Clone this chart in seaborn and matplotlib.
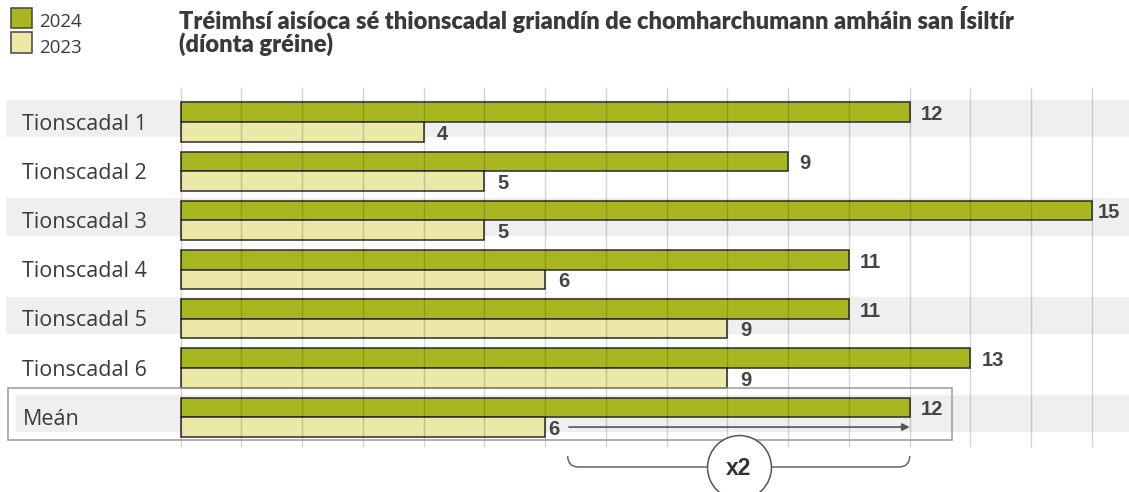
import matplotlib
matplotlib.use("Agg")
import matplotlib.pyplot as plt
from matplotlib.patches import Rectangle, PathPatch
from matplotlib.path import Path
import seaborn as sns
import pandas as pd

# ---------------- data ----------------
categories = ["Tionscadal 1", "Tionscadal 2", "Tionscadal 3", "Tionscadal 4",
              "Tionscadal 5", "Tionscadal 6", "Meán"]
years = ["2024", "2023"]
values_2024 = [12, 10, 15, 11, 11, 13, 12]
values_2023 = [4, 5, 5, 6, 9, 9, 6]
labels_2024 = ["12", "9", "15", "11", "11", "13", "12"]
labels_2023 = ["4", "5", "5", "6", "9", "9", "6"]
title_lines = ["Tréimhsí aisíoca sé thionscadal griandín de chomharchumann amháin san Ísiltír",
               "(díonta gréine)"]
factor_label = "x2"
colors = {"2024": "#a8b720", "2023": "#ebe8a8"}

df = pd.DataFrame({
    "project": categories * 2,
    "year": ["2024"] * len(categories) + ["2023"] * len(categories),
    "value": values_2024 + values_2023,
})

# ---------------- layout helpers (pixel geometry) ----------------
W, H = 1129, 492
X0, XU = 180.7, 60.75      # pixel of x=0, pixels per unit
Y0, YU = 122.0, 49.2       # pixel of row 0 centre, pixels per row


def px2x(px):
    return (px - X0) / XU


def px2y(py):
    return (py - Y0) / YU


TXT = "#3a3a3a"
VAL = "#444444"

fig = plt.figure(figsize=(W / 100, H / 100), dpi=100)
ax = fig.add_axes([0, 0, 1, 1])

sns.barplot(data=df, y="project", x="value", hue="year", order=categories,
            hue_order=years, palette=colors, orient="h", width=0.8,
            edgecolor="#2b2b2b", linewidth=1.1, legend=False, ax=ax,
            saturation=1, zorder=2)

ax.set_xlim(px2x(0), px2x(W))
ax.set_ylim(px2y(H), px2y(0))
ax.set_axis_off()

# alternating bands
for i in range(0, len(categories), 2):
    left = px2x(6) if i < len(categories) - 1 else px2x(16)
    c = i - 3.5 / YU
    ax.add_patch(Rectangle((left, c - 18.7 / YU), px2x(W) - left, 37.4 / YU,
                           facecolor="#efefef", edgecolor="none", zorder=0,
                           clip_on=False))

# vertical grid lines (drawn over bars, translucent)
ax.vlines(range(0, 16), px2y(87), px2y(447), color="black", alpha=0.17,
          lw=1, zorder=3)

# category labels
for i, cat in enumerate(categories):
    ax.text(px2x(22.5), i + 7.6 / YU, cat, ha="left", va="baseline",
            fontsize=15.5, family="Open Sans", color=TXT, zorder=5)

# value labels
for i in range(len(categories)):
    off24 = 6 if values_2024[i] >= 15 else 11
    ax.text(values_2024[i] + off24 / XU, i - 0.2 + 7.8 / YU, labels_2024[i],
            ha="left", va="baseline", fontsize=14.5, fontweight="bold",
            family="Liberation Sans", color=VAL, zorder=5)
    off23 = 3 if i == len(categories) - 1 else 13
    ax.text(values_2023[i] + off23 / XU, i + 0.2 + 7.8 / YU, labels_2023[i],
            ha="left", va="baseline", fontsize=14.5, fontweight="bold",
            family="Liberation Sans", color=VAL, zorder=5)

# box around the mean row
ax.add_patch(Rectangle((px2x(8.3), px2y(387.7)), px2x(952) - px2x(8.3),
                       px2y(440) - px2y(387.7), facecolor="none",
                       edgecolor="#9a9a9a", lw=1.1, zorder=4, clip_on=False))

# arrow from 2023 mean to 2024 mean
mi = len(categories) - 1
ax.annotate("", xy=(values_2024[mi], mi + 0.2), xytext=(px2x(569), mi + 0.2),
            arrowprops=dict(arrowstyle="-|>", color="#555555", lw=1.2,
                            mutation_scale=11, shrinkA=0, shrinkB=0),
            zorder=6)

# brace under the difference
xl, xr = px2x(567.7), values_2024[mi]
yt, yb = px2y(456), px2y(467)
rx, ry = 11 / XU, 11 / YU
verts = [(xl, yt), (xl, yb), (xl + rx, yb), (xr - rx, yb), (xr, yb), (xr, yt)]
codes = [Path.MOVETO, Path.CURVE3, Path.CURVE3, Path.LINETO, Path.CURVE3, Path.CURVE3]
ax.add_patch(PathPatch(Path(verts, codes), facecolor="none", edgecolor="#666666",
                       lw=1.1, zorder=6, clip_on=False))
cx = (xl + xr) / 2
ax.plot([cx], [px2y(467)], marker="o", ms=46, mfc="white", mec="#555555",
        mew=1.1, zorder=7, clip_on=False)
ax.text(cx, px2y(467) + 8 / YU, factor_label, ha="center", va="baseline",
        fontsize=16.5, fontweight="bold", family="Liberation Sans", color="#333333",
        zorder=8)

# title (fit to reference width)
renderer = fig.canvas.get_renderer()
t1 = fig.text(179 / W, 1 - 29 / H, title_lines[0], ha="left", va="baseline",
              fontsize=15, fontweight="heavy", family="Lato", color="#3a3a3a")
bw = t1.get_window_extent(renderer).width
fs = 15 * 838 / bw
t1.set_fontsize(fs)
fig.text(179 / W, 1 - 52 / H, title_lines[1], ha="left", va="baseline",
         fontsize=fs, fontweight="heavy", family="Lato", color="#3a3a3a")

# legend
for k, (yr, top) in enumerate(zip(years, [7.5, 32.3])):
    fig.patches.append(Rectangle((11 / W, 1 - (top + 20.5) / H), 20.5 / W, 20.5 / H,
                                 transform=fig.transFigure, facecolor=colors[yr],
                                 edgecolor="#444444", lw=1.1))
    fig.text(39 / W, 1 - (27.3 + 25.4 * k) / H, yr, ha="left", va="baseline",
             fontsize=13.5, family="Open Sans", color=TXT)

fig.savefig("out.png", dpi=100)
